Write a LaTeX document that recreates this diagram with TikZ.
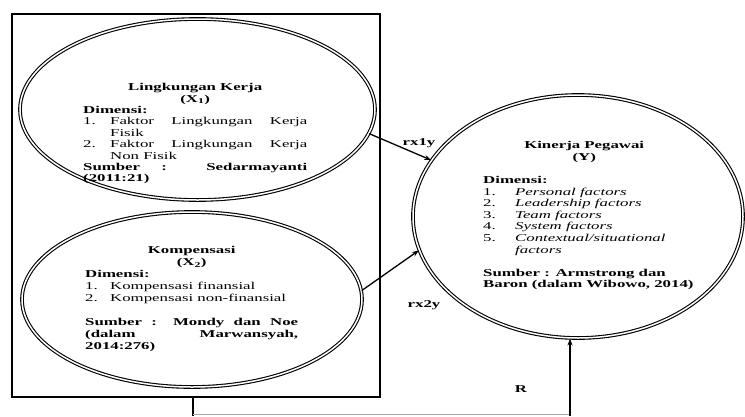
\documentclass[tikz,border=0pt]{standalone}
\usepackage{fontspec}
\setmainfont{Liberation Serif}[FakeStretch=1.6]
\usetikzlibrary{shapes.geometric,arrows.meta}
\begin{document}
\begin{tikzpicture}[x=1pt,y=-1pt,
  oval/.style={ellipse, draw, double, line width=1.1pt, double distance=1.5pt, inner sep=0pt, fill=white},
  frame/.style={draw, line width=1.8pt, inner sep=0pt},
  arr/.style={-{Stealth[length=7pt,width=5pt]}, line width=1.3pt},
  txt/.style={align=left, inner sep=0pt, anchor=north west},
  lbl/.style={inner sep=0pt, font={\fontsize{10.5}{12}\selectfont\bfseries}}
]
\useasboundingbox (0,0) rectangle (745,416);

\node[frame, minimum width=368pt, minimum height=383pt] (box) at (196,205.5) {};

\node[oval, minimum width=355pt, minimum height=181pt] (e1) at (197.5,109.5) {};
\node[oval, minimum width=340pt, minimum height=175pt] (e2) at (192,299.5) {};
\node[oval, minimum width=330pt, minimum height=243pt] (kin) at (578,216.5) {};

\node[txt, font={\fontsize{10.5}{11.4}\selectfont}] (t1) at (83,83.3) {%
\makebox[224pt]{\bfseries Lingkungan Kerja}\\
\makebox[224pt]{\bfseries (X\textsubscript{1})}\\
{\bfseries Dimensi:}\\
\makebox[27pt][l]{1.}\makebox[197pt][s]{Faktor Lingkungan Kerja}\\
\hspace*{27pt}Fisik\\
\makebox[27pt][l]{2.}\makebox[197pt][s]{Faktor Lingkungan Kerja}\\
\hspace*{27pt}Non Fisik\\
\makebox[224pt][s]{\bfseries Sumber : Sedarmayanti}\\
{\bfseries (2011:21)}};

\node[txt, font={\fontsize{10.5}{12}\selectfont}] (t2) at (85,246.3) {%
\makebox[213pt]{\bfseries Kompensasi}\\
\makebox[213pt]{\bfseries (X\textsubscript{2})}\\
{\bfseries Dimensi:}\\
\makebox[25pt][l]{1.}Kompensasi finansial\\
\makebox[25pt][l]{2.}Kompensasi non-finansial\\
\mbox{}\\
\makebox[213pt][s]{\bfseries Sumber : Mondy dan Noe}\\
\makebox[213pt][s]{\bfseries (dalam Marwansyah,}\\
{\bfseries 2014:276)}};

\node[txt, font={\fontsize{10.5}{11.6}\selectfont}] (t3) at (483,141.3) {%
\makebox[202pt]{\bfseries Kinerja Pegawai}\\
\makebox[202pt]{\bfseries (Y)}\\
\mbox{}\\
{\bfseries Dimensi:}\\
\makebox[32pt][l]{1.}\textit{Personal factors}\\
\makebox[32pt][l]{2.}\textit{Leadership factors}\\
\makebox[32pt][l]{3.}\textit{Team factors}\\
\makebox[32pt][l]{4.}\textit{System factors}\\
\makebox[32pt][l]{5.}\textit{Contextual/situational}\\
\hspace*{32pt}\textit{factors}\\
\mbox{}\\
{\bfseries Sumber : Armstrong dan}\\
{\bfseries Baron (dalam Wibowo, 2014)}};

\draw[arr] (e1.-8) -- (kin.159);
\draw[arr] (e2.3) -- (kin.192);

\node[lbl] (l1) at (419,143) {rx1y};
\node[lbl] (l2) at (424,305) {rx2y};
\node[lbl] (l3) at (521,389) {R};

\coordinate (c1) at (193,414);
\coordinate (c2) at (570,414);
\coordinate (c1e) at (193,416);
\coordinate (c2e) at (570,416);
\draw[line width=1.6pt] (box.south -| c1) -- (c1e);
\draw[line width=0.8pt, black!35] (c1) -- (c2);
\draw[arr] (c2e) -- (c2e |- kin.south);
\end{tikzpicture}
\end{document}
